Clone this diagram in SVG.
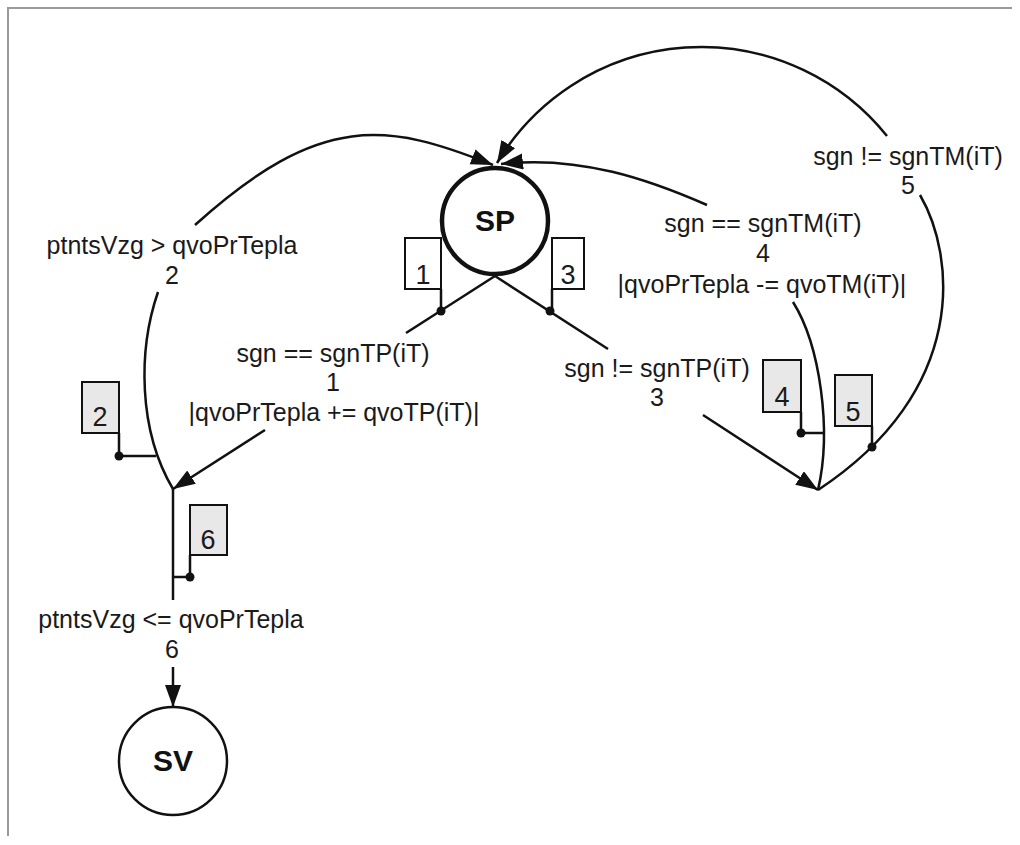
<svg xmlns="http://www.w3.org/2000/svg" width="1020" height="845" viewBox="0 0 1020 845">
  <style>
    .lbl { font-family: "Liberation Sans", Arial, sans-serif; font-size: 25px; fill: #1a1a1a; text-anchor: middle; }
    .num { font-family: "Liberation Sans", Arial, sans-serif; font-size: 27px; fill: #1a1a1a; text-anchor: middle; }
    .node-name { font-family: "Liberation Sans", Arial, sans-serif; font-size: 30px; font-weight: bold; fill: #111; text-anchor: middle; }
    .edge { fill: none; stroke: #111; stroke-width: 2.5; }
    .tag { stroke: #111; stroke-width: 2; }
    .stem { fill: none; stroke: #111; stroke-width: 2.5; }
    .tag-w { fill: #ffffff; }
    .tag-g { fill: #e8e8e8; }
    .dot { fill: #111; }
  </style>
  <defs>
    <marker id="arrow" markerUnits="userSpaceOnUse" markerWidth="24" markerHeight="18" refX="22" refY="8" orient="auto">
      <path d="M0,0 L22,8 L0,16 Z" fill="#111"/>
    </marker>
  </defs>

  <rect width="1020" height="845" fill="#ffffff"/>
  <!-- frame -->
  <path d="M8,836 V8 H1012" fill="none" stroke="#9a9a9a" stroke-width="2"/>

  <!-- connectors -->
  <g id="connectors">
    <!-- branches leaving SP -->
    <path class="edge" d="M495,276 L406,333"/>
    <path class="edge" d="M495,276 L608,349"/>
    <!-- 1: to left junction -->
    <path class="edge" marker-end="url(#arrow)" d="M265,430 L173,489"/>
    <!-- 2: back to SP -->
    <path class="edge" d="M158,292 C138,350 138,430 173,489"/>
    <path class="edge" marker-end="url(#arrow)" d="M195,225 C321,111 388,123 493,165"/>
    <!-- 6: to SV -->
    <path class="edge" d="M173,489 V600"/>
    <path class="edge" marker-end="url(#arrow)" d="M173,667 V707"/>
    <!-- 3: to right junction -->
    <path class="edge" marker-end="url(#arrow)" d="M703,415 L818,490"/>
    <!-- 4: back to SP -->
    <path class="edge" d="M818,490 C832,430 820,345 793,302"/>
    <path class="edge" marker-end="url(#arrow)" d="M707,205 C650,180 580,155 501,164"/>
    <!-- 5: back to SP -->
    <path class="edge" d="M818,490 C970,390 955,255 920,195"/>
    <path class="edge" marker-end="url(#arrow)" d="M887,136 A238,238 0 0 0 497,163"/>
  </g>

  <!-- transition tags -->
  <g id="tag-1">
    <rect class="tag tag-w" x="405" y="238" width="36" height="51"/>
    <path class="stem" d="M441,289 V311"/>
    <circle class="dot" cx="441" cy="311" r="4.5"/>
    <text class="num" x="423" y="284">1</text>
  </g>
  <g id="tag-3">
    <rect class="tag tag-w" x="552" y="238" width="32" height="51"/>
    <path class="stem" d="M552,289 V311"/>
    <circle class="dot" cx="550" cy="311" r="4.5"/>
    <text class="num" x="568" y="284">3</text>
  </g>
  <g id="tag-2">
    <rect class="tag tag-g" x="82" y="382" width="37" height="51"/>
    <path class="stem" d="M119,433 V456 H156"/>
    <circle class="dot" cx="119" cy="456" r="4.5"/>
    <text class="num" x="100" y="426">2</text>
  </g>
  <g id="tag-6">
    <rect class="tag tag-g" x="190" y="505" width="37" height="50"/>
    <path class="stem" d="M190,555 V577 H173"/>
    <circle class="dot" cx="190" cy="577" r="4.5"/>
    <text class="num" x="208" y="549">6</text>
  </g>
  <g id="tag-4">
    <rect class="tag tag-g" x="763" y="360" width="38" height="52"/>
    <path class="stem" d="M801,412 V433 H824"/>
    <circle class="dot" cx="801" cy="433" r="4.5"/>
    <text class="num" x="782" y="406">4</text>
  </g>
  <g id="tag-5">
    <rect class="tag tag-g" x="835" y="375" width="37" height="51"/>
    <path class="stem" d="M872,426 V447"/>
    <circle class="dot" cx="872" cy="447" r="4.5"/>
    <text class="num" x="853" y="421">5</text>
  </g>

  <!-- transition labels -->
  <g id="label-1">
    <text class="lbl" x="333" y="362">sgn == sgnTP(iT)</text>
    <text class="lbl" x="333" y="391">1</text>
    <text class="lbl" x="334" y="421">|qvoPrTepla += qvoTP(iT)|</text>
  </g>
  <g id="label-2">
    <text class="lbl" x="172" y="254">ptntsVzg &gt; qvoPrTepla</text>
    <text class="lbl" x="172" y="284">2</text>
  </g>
  <g id="label-3">
    <text class="lbl" x="657" y="377">sgn != sgnTP(iT)</text>
    <text class="lbl" x="657" y="406">3</text>
  </g>
  <g id="label-4">
    <text class="lbl" x="763" y="232">sgn == sgnTM(iT)</text>
    <text class="lbl" x="763" y="262">4</text>
    <text class="lbl" x="762" y="293">|qvoPrTepla -= qvoTM(iT)|</text>
  </g>
  <g id="label-5">
    <text class="lbl" x="908" y="165">sgn != sgnTM(iT)</text>
    <text class="lbl" x="908" y="194">5</text>
  </g>
  <g id="label-6">
    <text class="lbl" x="171" y="628">ptntsVzg &lt;= qvoPrTepla</text>
    <text class="lbl" x="172" y="658">6</text>
  </g>

  <!-- states -->
  <g id="node-SP">
    <circle cx="495" cy="221" r="53" fill="#ffffff" stroke="#111" stroke-width="4.5"/>
    <text class="node-name" x="495" y="231">SP</text>
  </g>
  <g id="node-SV">
    <circle cx="173" cy="761" r="54" fill="#ffffff" stroke="#111" stroke-width="2.5"/>
    <text class="node-name" x="173" y="771">SV</text>
  </g>
</svg>
